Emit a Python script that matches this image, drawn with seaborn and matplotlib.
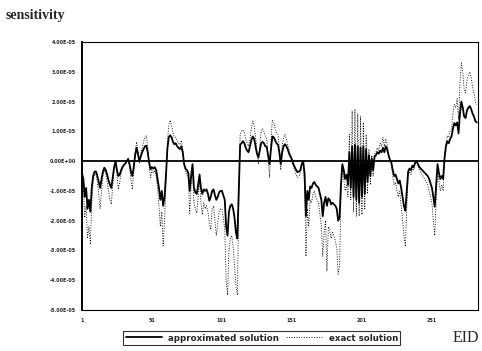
import numpy as np
import pandas as pd
import seaborn as sns
import matplotlib.pyplot as plt
from matplotlib.ticker import FuncFormatter, FixedLocator

# valores (unidade 1e-5), um por EID
approx = [
    -0.4, -0.6, -1.2, -0.9, -1.6, -1.3, -1.7, -0.9, -0.5, -0.35,
    -0.35, -0.5, -0.7, -0.9, -0.6, -0.35, -0.22, -0.3, -0.45, -0.65,
    -0.8, -0.9, -0.55, -0.2, 0.0, -0.3, -0.5, -0.45, -0.3, -0.2,
    -0.12, -0.08, 0.0, 0.07, -0.1, -0.35, -0.5, -0.2, 0.2, 0.45,
    0.25, 0.0, 0.15, 0.3, 0.4, 0.5, 0.52, 0.3, -0.05, -0.27,
    -0.2, -0.25, -0.2, -0.3, -0.6, -0.9, -1.3, -1.0, -1.5, -1.2,
    -0.5, 0.4, 0.8, 0.87, 0.8, 0.65, 0.57, 0.6, 0.5, 0.45,
    0.4, 0.5, 0.3, -0.1, -0.25, -0.3, -0.4, -1.0, -0.5, -0.1,
    -0.9, -1.05, -1.1, -0.8, -0.45, -0.9, -1.1, -0.95, -1.0, -0.95,
    -1.1, -1.33, -1.2, -1.0, -0.95, -1.15, -1.3, -1.2, -1.05, -1.0,
    -1.0, -1.15, -1.3, -2.2, -2.5, -1.7, -1.5, -1.45, -1.6, -1.9,
    -2.4, -2.6, -1.0, 0.55, 0.6, 0.67, 0.6, 0.45, 0.35, 0.3,
    0.5, 0.7, 0.83, 0.75, 0.5, 0.25, 0.13, 0.35, 0.6, 0.65,
    0.6, 0.5, 0.48, 0.2, -0.1, 0.4, 0.83, 0.8, 0.7, 0.6,
    0.55, 0.3, -0.1, 0.3, 0.5, 0.57, 0.5, 0.4, 0.25, 0.15,
    0.05, -0.1, -0.2, -0.3, -0.37, -0.35, -0.3, -0.1, 0.0, -0.4,
    -1.85, -1.0, -1.3, -0.85, -0.9, -0.75, -0.7, -0.8, -0.85, -0.9,
    -1.1, -1.3, -1.85, -1.4, -1.2, -1.5, -1.25, -1.3, -1.45, -1.4,
    -1.45, -1.5, -1.6, -2.0, -1.9, -0.8, -0.1, -0.3, -0.6, -0.45,
    -0.8, 0.3, -0.9, 0.5, -1.2, 0.55, -1.3, 0.5, -1.4, 0.45,
    -1.2, 0.5, -1.1, 0.4, -0.7, 0.2, -0.5, 0.1, -0.3, 0.15,
    0.2, 0.3, 0.25, 0.35, 0.3, 0.45, 0.3, 0.5, 0.4, 0.2,
    0.05, -0.05, -0.3, -0.5, -0.45, -0.6, -0.75, -0.65, -0.9, -1.2,
    -1.5, -1.67, -1.0, -0.35, -0.25, -0.3, -0.15, -0.2, -0.05, 0.0,
    -0.1, -0.2, -0.25, -0.3, -0.35, -0.4, -0.45, -0.5, -0.6, -0.75,
    -0.9, -1.2, -1.53, -0.8, -0.1, -0.4, -0.6, -0.5, -0.6, 0.1,
    0.5, 0.67, 0.6, 0.75, 0.83, 1.1, 1.28, 1.2, 1.3, 0.93,
    1.6, 2.0, 1.8, 1.5, 1.45, 1.7, 1.8, 1.85, 1.75, 1.6,
    1.5, 1.35, 1.3,
]

exact = [
    -0.5, -0.9, -1.9, -1.5, -2.6, -2.2, -2.8, -1.4, -0.7, -0.45,
    -0.45, -0.7, -1.1, -1.6, -1.0, -0.5, -0.3, -0.4, -0.7, -1.0,
    -1.3, -1.45, -0.8, -0.25, 0.02, -0.45, -0.95, -0.7, -0.4, -0.25,
    -0.15, -0.1, 0.0, 0.1, -0.2, -0.6, -0.95, -0.3, 0.3, 0.65,
    0.35, -0.05, 0.25, 0.45, 0.65, 0.8, 0.85, 0.45, -0.15, -0.55,
    -0.3, -0.4, -0.3, -0.5, -0.9, -1.5, -2.2, -1.7, -2.85, -2.0,
    -0.8, 0.6, 1.2, 1.38, 1.2, 0.95, 0.8, 0.8, 0.7, 0.6,
    0.55, 0.7, 0.4, -0.15, -0.35, -0.45, -0.6, -1.75, -0.8, -0.15,
    -1.4, -1.6, -1.75, -1.2, -0.6, -1.4, -1.8, -1.4, -1.6, -1.5,
    -1.7, -2.1, -2.3, -1.6, -1.5, -2.0, -2.5, -2.1, -1.7, -1.6,
    -1.6, -1.9, -2.3, -4.0, -4.5, -3.0, -2.6, -2.5, -2.9, -3.5,
    -4.2, -4.5, -1.5, 0.9, 1.0, 1.05, 0.95, 0.75, 0.6, 0.5,
    0.75, 1.1, 1.35, 1.2, 0.8, 0.35, -0.1, 0.5, 1.0, 1.1,
    1.0, 0.85, 0.75, 0.1, -0.55, 0.7, 1.38, 1.3, 1.1, 0.95,
    0.9, 0.45, -0.3, 0.5, 0.8, 0.9, 0.75, 0.55, 0.35, 0.2,
    0.05, -0.15, -0.3, -0.45, -0.55, -0.5, -0.4, -0.15, 0.02, -0.7,
    -3.2, -1.6, -2.2, -1.3, -1.4, -1.1, -1.0, -1.2, -1.3, -1.4,
    -1.8, -2.2, -3.2, -2.4, -2.0, -3.7, -2.2, -2.3, -2.6, -2.4,
    -2.5, -2.7, -2.9, -3.8, -3.5, -1.3, -0.15, -0.6, -1.0, -0.8,
    -1.2, 0.9, -1.3, 1.7, -1.7, 1.75, -1.85, 1.6, -1.85, 1.5,
    -1.8, 1.3, -1.6, 0.9, -1.1, 0.4, -0.8, 0.2, -0.5, 0.25,
    0.3, 0.45, 0.35, 0.6, 0.5, 0.8, 0.5, 0.75, 0.55, 0.25,
    0.0, -0.1, -0.5, -0.8, -0.7, -1.0, -1.2, -1.0, -1.5, -2.0,
    -2.5, -2.87, -1.6, -0.5, -0.35, -0.45, -0.2, -0.3, -0.05, 0.02,
    -0.15, -0.3, -0.4, -0.45, -0.55, -0.6, -0.7, -0.8, -1.0, -1.2,
    -1.4, -2.0, -2.5, -1.3, -0.15, -0.7, -1.0, -0.8, -1.0, 0.15,
    0.6, 0.85, 0.8, 1.0, 1.1, 1.6, 1.9, 1.8, 2.1, 1.4,
    2.6, 3.3, 3.0, 2.4, 2.3, 2.7, 2.9, 3.0, 2.8, 2.5,
    2.3, 2.0, 1.9,
]

eid = list(range(1, len(approx) + 1))
xticks = [1, 51, 101, 151, 201, 251]
yticks = [4e-5, 3e-5, 2e-5, 1e-5, 0.0, -1e-5, -2e-5, -3e-5, -4e-5, -5e-5]

df = pd.DataFrame({
    "EID": eid,
    "approx": np.array(approx) * 1e-5,
    "exact": np.array(exact) * 1e-5,
})

sns.set_style("white")
plt.rcParams["font.family"] = ["DejaVu Sans"]

fig = plt.figure(figsize=(4.82, 3.51), dpi=100)
ax = fig.add_axes([0.170, 0.117, 0.822, 0.763])

sns.lineplot(data=df, x="EID", y="exact", ax=ax, color="black",
             linewidth=0.6, linestyle=(0, (1.2, 1.8)), label="exact solution")
sns.lineplot(data=df, x="EID", y="approx", ax=ax, color="black",
             linewidth=1.3, label="approximated solution")
ax.axhline(0, color="black", linewidth=1.3, zorder=1)

ax.set_xlim(1, len(eid) + 1)
ax.set_ylim(-5e-5, 4e-5)
ax.xaxis.set_major_locator(FixedLocator(xticks))
ax.yaxis.set_major_locator(FixedLocator(yticks))
ax.yaxis.set_major_formatter(FuncFormatter(lambda v, p: f"{v:.2E}"))
ax.tick_params(axis="both", labelsize=3.5, length=2.5, width=0.8,
               direction="out", pad=2, color="black")
ax.tick_params(axis="x", pad=3)
for lab in ax.get_xticklabels() + ax.get_yticklabels():
    lab.set_fontweight("bold")
ax.set_xlabel("")
ax.set_ylabel("")
for side, sp in ax.spines.items():
    sp.set_color("black")
    sp.set_linewidth(0.8)
ax.spines["left"].set_linewidth(1.4)

# legenda embaixo, na ordem do original
handles, labels = ax.get_legend_handles_labels()
ax.get_legend().remove()
leg = fig.legend(handles[::-1], labels[::-1], loc="center",
                 bbox_to_anchor=(0.543, 0.037), ncol=2, frameon=True,
                 fancybox=False, edgecolor="black",
                 handlelength=4.2, columnspacing=0.9, borderpad=0.3,
                 handletextpad=0.7, prop={"weight": "bold", "size": 6.2})
leg.get_frame().set_linewidth(0.8)

fig.text(0.012, 0.955, "sensitivity", fontsize=10, fontweight="bold",
         family=["Liberation Serif"], va="center", ha="left")
fig.text(0.995, 0.037, "EID", fontsize=11.5, family=["Liberation Serif"],
         va="center", ha="right")

plt.savefig("out.png", dpi=100)
plt.close()
